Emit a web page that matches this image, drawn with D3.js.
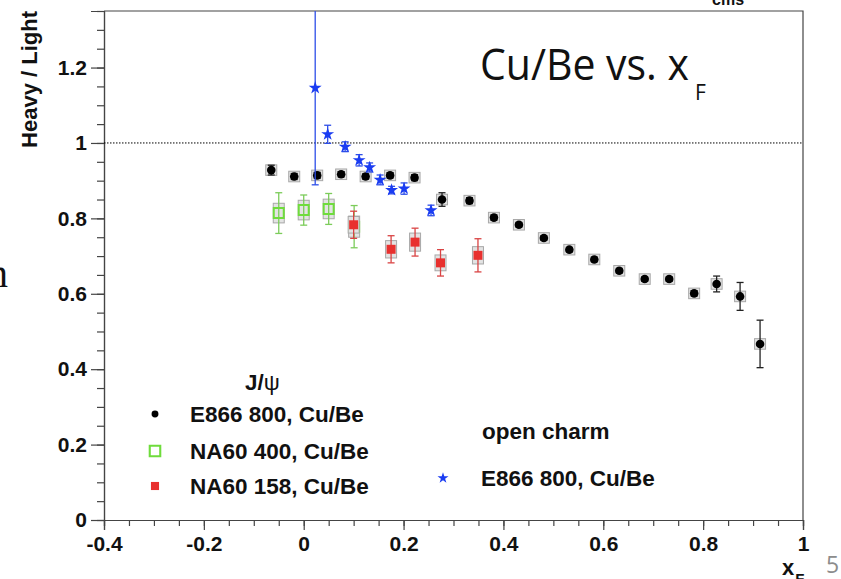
<!DOCTYPE html>
<html lang="en">
<head>
<meta charset="UTF-8">
<title>Cu/Be vs. xF</title>
<script src="https://cdn.jsdelivr.net/npm/d3@7"></script>
<style>
  body { margin: 0; background: #fff; }
  svg { display: block; }
</style>
</head>
<body>
<div class="chart"></div>
<script>
  // J/psi, E866 800 GeV, Cu/Be
  const e866XF = [-0.065, -0.019, 0.027, 0.075, 0.124, 0.173, 0.222, 0.277, 0.332, 0.381, 0.431,
    0.481, 0.532, 0.582, 0.632, 0.683, 0.732, 0.782, 0.827, 0.874, 0.914]
  const e866Ratio = [0.928, 0.911, 0.914, 0.917, 0.911, 0.914, 0.908, 0.850, 0.847, 0.802, 0.783,
    0.748, 0.717, 0.691, 0.661, 0.639, 0.639, 0.601, 0.626, 0.593, 0.467]
  const e866Err = [0.013, 0.008, 0.008, 0.007, 0.007, 0.007, 0.008, 0.018, 0.008, 0.007, 0.006,
    0.006, 0.006, 0.006, 0.006, 0.006, 0.006, 0.007, 0.021, 0.037, 0.063]
  const e866Sys = [0.014, 0.014, 0.014, 0.014, 0.014, 0.014, 0.014, 0.014, 0.014, 0.014, 0.014,
    0.014, 0.014, 0.014, 0.014, 0.014, 0.014, 0.014, 0.014, 0.014, 0.014]

  // J/psi, NA60 400 GeV
  const na400XF = [-0.050, 0.000, 0.050, 0.101]
  const na400Ratio = [0.814, 0.822, 0.825, 0.778]
  const na400Err = [0.054, 0.040, 0.041, 0.056]
  const na400Sys = [0.026, 0.026, 0.026, 0.028]

  // J/psi, NA60 158 GeV
  const na158XF = [0.100, 0.175, 0.223, 0.274, 0.349]
  const na158Ratio = [0.783, 0.718, 0.737, 0.682, 0.702]
  const na158Err = [0.036, 0.036, 0.037, 0.035, 0.044]
  const na158Sys = [0.022, 0.023, 0.024, 0.021, 0.023]

  // open charm, E866 800 GeV
  const charmXF = [0.023, 0.048, 0.083, 0.111, 0.132, 0.153, 0.176, 0.201, 0.255]
  const charmRatio = [1.146, 1.023, 0.990, 0.954, 0.935, 0.902, 0.875, 0.879, 0.821]
  const charmErr = [0.257, 0.024, 0.013, 0.015, 0.012, 0.013, 0.010, 0.015, 0.014]

  const xTicks = [-0.4, -0.2, 0, 0.2, 0.4, 0.6, 0.8, 1]
  const xTickLabels = ['-0.4', '-0.2', '0', '0.2', '0.4', '0.6', '0.8', '1']
  const yTicks = [0, 0.2, 0.4, 0.6, 0.8, 1, 1.2]
  const yTickLabels = ['0', '0.2', '0.4', '0.6', '0.8', '1', '1.2']

  const jpsiLabels = ['E866 800, Cu/Be', 'NA60 400, Cu/Be', 'NA60 158, Cu/Be']
  const charmLabels = ['E866 800, Cu/Be']

  const width = 841
  const height = 579
  const plot = { left: 104, right: 803, top: 11, bottom: 520 }
  const font = '"Liberation Sans", Arial, sans-serif'

  const x = d3.scaleLinear().domain([-0.4, 1]).range([plot.left, plot.right])
  const y = d3.scaleLinear().domain([0, 1.35]).range([plot.bottom, plot.top])

  const svg = d3.select('.chart')
    .append('svg')
    .attr('width', width)
    .attr('height', height)

  svg.append('clipPath').attr('id', 'clip')
    .append('rect')
    .attr('x', plot.left).attr('y', plot.top)
    .attr('width', plot.right - plot.left).attr('height', plot.bottom - plot.top)

  // minor + major ticks
  const minorX = d3.range(-0.4, 1.0001, 0.05)
  const minorY = d3.range(0, 1.3501, 0.05)

  function styleAxis(g) {
    g.selectAll('path, line').attr('stroke', '#444').attr('stroke-width', 1.2)
    g.selectAll('text')
      .attr('font-family', font)
      .attr('font-weight', 'bold')
      .attr('font-size', '21px')
      .attr('fill', '#111')
  }

  svg.append('g')
    .attr('transform', `translate(0, ${plot.bottom})`)
    .call(d3.axisBottom(x).tickValues(minorX).tickSize(6).tickFormat(''))
    .call(styleAxis)
  svg.append('g')
    .attr('transform', `translate(0, ${plot.bottom})`)
    .call(d3.axisBottom(x).tickValues(xTicks).tickSize(10).tickPadding(6)
      .tickFormat((d, i) => xTickLabels[i]))
    .call(styleAxis)

  svg.append('g')
    .attr('transform', `translate(${plot.left}, 0)`)
    .call(d3.axisLeft(y).tickValues(minorY).tickSize(7).tickFormat(''))
    .call(styleAxis)
  svg.append('g')
    .attr('transform', `translate(${plot.left}, 0)`)
    .call(d3.axisLeft(y).tickValues(yTicks).tickSize(13).tickPadding(4)
      .tickFormat((d, i) => yTickLabels[i]))
    .call(styleAxis)

  // frame top/right
  svg.append('path')
    .attr('d', `M${plot.left},${plot.top}H${plot.right}V${plot.bottom}`)
    .attr('fill', 'none')
    .attr('stroke', '#444')
    .attr('stroke-width', 1.2)

  // reference line at 1
  svg.append('line')
    .attr('x1', plot.left).attr('x2', plot.right)
    .attr('y1', y(1)).attr('y2', y(1))
    .attr('stroke', '#000')
    .attr('stroke-width', 1)
    .attr('stroke-dasharray', '1.5,1.5')

  const layer = svg.append('g').attr('clip-path', 'url(#clip)')

  function drawSeries(xs, ys, errs, sys, opt) {
    const pts = xs.map((v, i) => ({ x: v, y: ys[i], e: errs[i], s: sys ? sys[i] : 0 }))
    const g = layer.append('g')
    if (sys) {
      g.selectAll('rect.sys').data(pts).enter().append('rect')
        .attr('class', 'sys')
        .attr('x', d => x(d.x) - 5.5)
        .attr('width', 11)
        .attr('y', d => y(d.y + d.s))
        .attr('height', d => y(d.y - d.s) - y(d.y + d.s))
        .attr('fill', '#e3e3e3')
        .attr('stroke', '#a8a8a8')
        .attr('stroke-width', 1)
    }
    const bar = g.selectAll('g.err').data(pts).enter().append('g')
      .attr('stroke', opt.barColor)
      .attr('stroke-width', 1.3)
    bar.append('line')
      .attr('x1', d => x(d.x)).attr('x2', d => x(d.x))
      .attr('y1', d => y(d.y - d.e)).attr('y2', d => y(d.y + d.e))
    bar.append('line')
      .attr('x1', d => x(d.x) - 3.5).attr('x2', d => x(d.x) + 3.5)
      .attr('y1', d => y(d.y - d.e)).attr('y2', d => y(d.y - d.e))
    bar.append('line')
      .attr('x1', d => x(d.x) - 3.5).attr('x2', d => x(d.x) + 3.5)
      .attr('y1', d => y(d.y + d.e)).attr('y2', d => y(d.y + d.e))
    g.selectAll('path.mk').data(pts).enter().append('path')
      .attr('class', 'mk')
      .attr('transform', d => `translate(${x(d.x)}, ${y(d.y)})`)
      .call(opt.marker)
  }

  const circle = s => s.attr('d', d3.symbol(d3.symbolCircle, 58)()).attr('fill', '#000')
  const openSquare = s => s.attr('d', 'M-5,-5H5V5H-5Z').attr('fill', 'none')
    .attr('stroke', '#6fdc3c').attr('stroke-width', 2)
  const fullSquare = s => s.attr('d', 'M-4.5,-4.5H4.5V4.5H-4.5Z').attr('fill', '#e8302e')
  const star = s => s.attr('d', d3.symbol(d3.symbolStar, 52)()).attr('fill', '#1a3cf2')

  drawSeries(e866XF, e866Ratio, e866Err, e866Sys, { barColor: '#222', marker: circle })
  drawSeries(na400XF, na400Ratio, na400Err, na400Sys, { barColor: '#7ccc5a', marker: openSquare })
  drawSeries(na158XF, na158Ratio, na158Err, na158Sys, { barColor: '#d94444', marker: fullSquare })
  drawSeries(charmXF, charmRatio, charmErr, null, { barColor: '#2d4ee8', marker: star })

  // legends
  const legendText = (sel) => sel
    .attr('font-family', font)
    .attr('font-weight', 'bold')
    .attr('font-size', '22.5px')
    .attr('fill', '#111')

  const jpsiTitle = svg.append('text')
    .attr('x', 245).attr('y', 390)
    .call(legendText)
  jpsiTitle.append('tspan').text('J/')
  jpsiTitle.append('tspan').attr('font-weight', 'normal').text('ψ')

  const jpsiMarkers = [circle, openSquare, fullSquare]
  const jpsiRowY = [414, 451, 486]
  const jpsiMarkerScale = [0.8, 1.05, 0.9]
  jpsiLabels.forEach((label, i) => {
    svg.append('path')
      .attr('transform', `translate(155, ${jpsiRowY[i]}) scale(${jpsiMarkerScale[i]})`)
      .call(jpsiMarkers[i])
    svg.append('text')
      .attr('x', 190).attr('y', jpsiRowY[i] + 8)
      .call(legendText)
      .text(label)
  })

  svg.append('text')
    .attr('x', 482).attr('y', 439)
    .call(legendText)
    .text('open charm')
  charmLabels.forEach((label, i) => {
    svg.append('path')
      .attr('transform', `translate(443, ${478 + i * 36}) scale(0.85)`)
      .call(star)
    svg.append('text')
      .attr('x', 481).attr('y', 486 + i * 36)
      .call(legendText)
      .text(label)
  })

  // axis titles
  svg.append('text')
    .attr('transform', `translate(37, ${plot.top}) rotate(-90)`)
    .attr('text-anchor', 'end')
    .attr('font-family', font)
    .attr('font-weight', 'bold')
    .attr('font-size', '22px')
    .attr('fill', '#111')
    .text('Heavy / Light')

  const xTitle = svg.append('text')
    .attr('x', 782).attr('y', 575)
    .attr('font-family', font)
    .attr('font-weight', 'bold')
    .attr('font-size', '22px')
    .attr('fill', '#111')
  xTitle.append('tspan').text('x')
  xTitle.append('tspan').attr('dx', 1).attr('dy', 9).attr('font-size', '15px').text('F')

  // slide text around the plot
  const title = svg.append('text')
    .attr('x', 480).attr('y', 80)
    .attr('font-family', '"Open Sans", "Noto Sans", sans-serif')
    .attr('font-size', '44px')
    .attr('fill', '#111')
  title.append('tspan')
    .attr('textLength', 209)
    .attr('lengthAdjust', 'spacingAndGlyphs')
    .text('Cu/Be vs. x')
  title.append('tspan')
    .attr('x', 695).attr('y', 100)
    .attr('font-size', '21px')
    .text('F')

  svg.append('text')
    .attr('x', 826).attr('y', 573)
    .attr('font-family', '"Open Sans", "Noto Sans", sans-serif')
    .attr('font-size', '23px')
    .attr('fill', '#8c8c8c')
    .text('5')

  svg.append('text')
    .attr('x', 8).attr('y', 287)
    .attr('text-anchor', 'end')
    .attr('font-family', '"Liberation Serif", serif')
    .attr('font-size', '40px')
    .attr('fill', '#111')
    .text('n')

  svg.append('text')
    .attr('x', 712).attr('y', 5)
    .attr('font-family', font)
    .attr('font-weight', 'bold')
    .attr('font-size', '16px')
    .attr('fill', '#111')
    .text('cms')
</script>
</body>
</html>
